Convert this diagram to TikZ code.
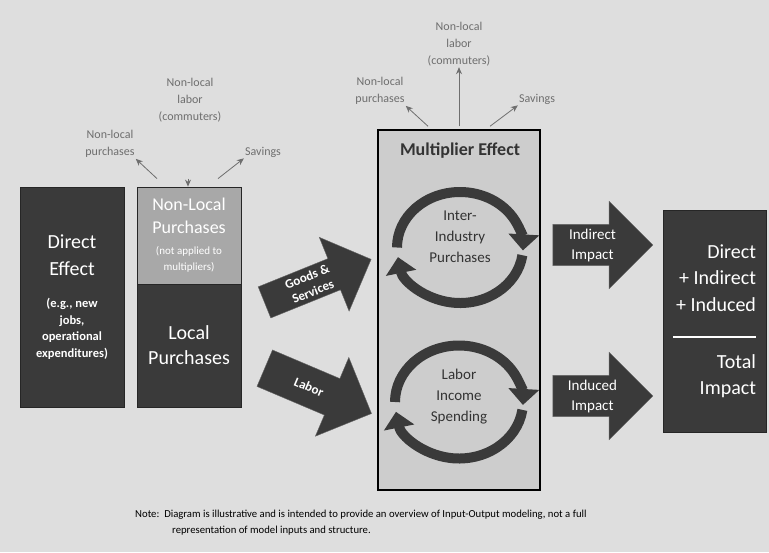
\documentclass[tikz,border=0pt]{standalone}
\usepackage{fontspec}
\setmainfont{Carlito}
\usetikzlibrary{arrows.meta,shapes.arrows,calc}

\definecolor{bgGray}{HTML}{DEDEDE}
\definecolor{boxDark}{HTML}{3A3A3A}
\definecolor{boxLight}{HTML}{A8A8A8}
\definecolor{multGray}{HTML}{CDCDCD}
\definecolor{labelGray}{HTML}{6E6E6E}
\definecolor{textDark}{HTML}{333333}

\newcommand{\bigtxt}{\fontsize{20}{27}\selectfont}
\newcommand{\smalltxt}[1]{\parbox{100pt}{\centering #1}}

\tikzset{
  ring/.style={line width=10pt, draw=boxDark, -{Triangle[width=30pt,length=16pt]}},
}

\begin{document}
\begin{tikzpicture}[x=1pt,y=-1pt]
    \fill[bgGray] (0,0) rectangle (769,552);
    \useasboundingbox (0,0) rectangle (769,552);

    % dark and light boxes
    \begin{scope}[every node/.style={draw=black!85,line width=0.8pt,text=white,align=center,
        minimum width=104pt,inner sep=0pt,font=\bigtxt}]
      \node[fill=boxDark, minimum height=220pt] (direct) at (72,297)
        {Direct\\Effect\\[22pt]
         \smalltxt{\fontsize{12.5}{16.5}\selectfont\bfseries (e.g., new\\jobs,\\operational\\expenditures)}};
      \node[fill=boxLight, minimum height=97pt, font=\fontsize{18}{23}\selectfont] (nonlocal) at (189,235.5)
        {Non-Local\\Purchases\\[7pt]
         \smalltxt{\fontsize{11}{16}\selectfont (not applied to\\multipliers)}};
      \node[fill=boxDark, minimum height=123pt, font=\fontsize{20}{25}\selectfont] (local) at (189,345.5)
        {Local\\Purchases};
      \node[fill=boxDark, minimum width=103pt, minimum height=222pt, align=right,
          font=\fontsize{20}{26.5}\selectfont] (total) at (714.5,321)
        {Direct\\+ Indirect\\+ Induced\\
         \rule{83pt}{2pt}\\[4pt]Total\\Impact};
    \end{scope}

    % multiplier box
    \node[draw=black, line width=1.5pt, fill=multGray, minimum width=162pt, minimum height=360pt] (mult) at (459,310) {};
    \node[text=textDark, font=\fontsize{18}{22}\selectfont\bfseries] (multtitle) at (460,151) {Multiplier Effect};

    \coordinate (ring1) at (460,247.5);
    \coordinate (ring2) at (459,402);
    \begin{scope}[every node/.style={text=textDark, align=center, font=\fontsize{15}{21}\selectfont}]
      \node (interind) at (460,237) {Inter-\\Industry\\Purchases};
      \node (laborinc) at (459,397) {Labor\\Income\\Spending};
    \end{scope}
    \draw[ring] ($(ring1)+(-180:63 and 55.5)$) arc[start angle=-180, end angle=3, x radius=63, y radius=55.5];
    \draw[ring] ($(ring1)+(8:63 and 55.5)$) arc[start angle=8, end angle=170, x radius=63, y radius=55.5];
    \draw[ring] ($(ring2)+(-180:64 and 56.5)$) arc[start angle=-180, end angle=3, x radius=64, y radius=56.5];
    \draw[ring] ($(ring2)+(8:64 and 56.5)$) arc[start angle=8, end angle=170, x radius=64, y radius=56.5];

    % block arrows
    \begin{scope}[every node/.style={single arrow, fill=boxDark, draw=black!60, text=white, align=center,
        single arrow head extend=23pt, inner ysep=4pt}]
      \node[rotate=22, minimum height=115pt, font=\fontsize{13}{16}\selectfont\bfseries] (goods) at (310,284) {Goods \&\\Services};
      \node[rotate=-23, minimum height=116pt, inner ysep=15pt, font=\fontsize{13}{16}\selectfont\bfseries] (labor) at (309,387) {Labor};
      \node[minimum height=100pt, font=\fontsize{15}{20}\selectfont] (indirect) at (592.5,245) {Indirect\\Impact};
      \node[minimum height=100pt, font=\fontsize{15}{20}\selectfont] (induced) at (592.5,396) {Induced\\Impact};
    \end{scope}

    % leakages
    \begin{scope}[every node/.style={text=labelGray, align=center, font=\fontsize{12}{17}\selectfont, inner sep=1pt}]
      \node (lpur) at (110,144) {Non-local\\purchases};
      \node (llab) at (190,100) {Non-local\\labor\\(commuters)};
      \node (lsav) at (263,152) {Savings};
      \node (mpur) at (380,91) {Non-local\\purchases};
      \node (mlab) at (459,44) {Non-local\\labor\\(commuters)};
      \node (msav) at (537,99) {Savings};
    \end{scope}
    \begin{scope}[every edge/.style={draw=labelGray, thick, -{Stealth[length=7pt,width=6pt]}}]
      \path ($(nonlocal.north)+(-32,-8)$) edge (lpur.south east);
      \path ($(nonlocal.north)+(-1,-8)$) edge ($(nonlocal.north)+(-1,0)$ |- llab.south);
      \path ($(nonlocal.north)+(29,-8)$) edge (lsav.south west);
      \path ($(mult.north)+(-31,-3)$) edge (mpur.south east);
      \path ($(mult.north)+(0,-3)$) edge (mult.north |- mlab.south);
      \path ($(mult.north)+(31,-3)$) edge (msav.south west);
    \end{scope}

    \node[anchor=north west, align=left, inner sep=0pt, font=\fontsize{10.7}{16}\selectfont] (note) at (135,510)
      {Note:\ \ Diagram is illustrative and is intended to provide an overview of Input-Output modeling, not a full\\
       \hspace*{37pt}representation of model inputs and structure.};
\end{tikzpicture}
\end{document}
